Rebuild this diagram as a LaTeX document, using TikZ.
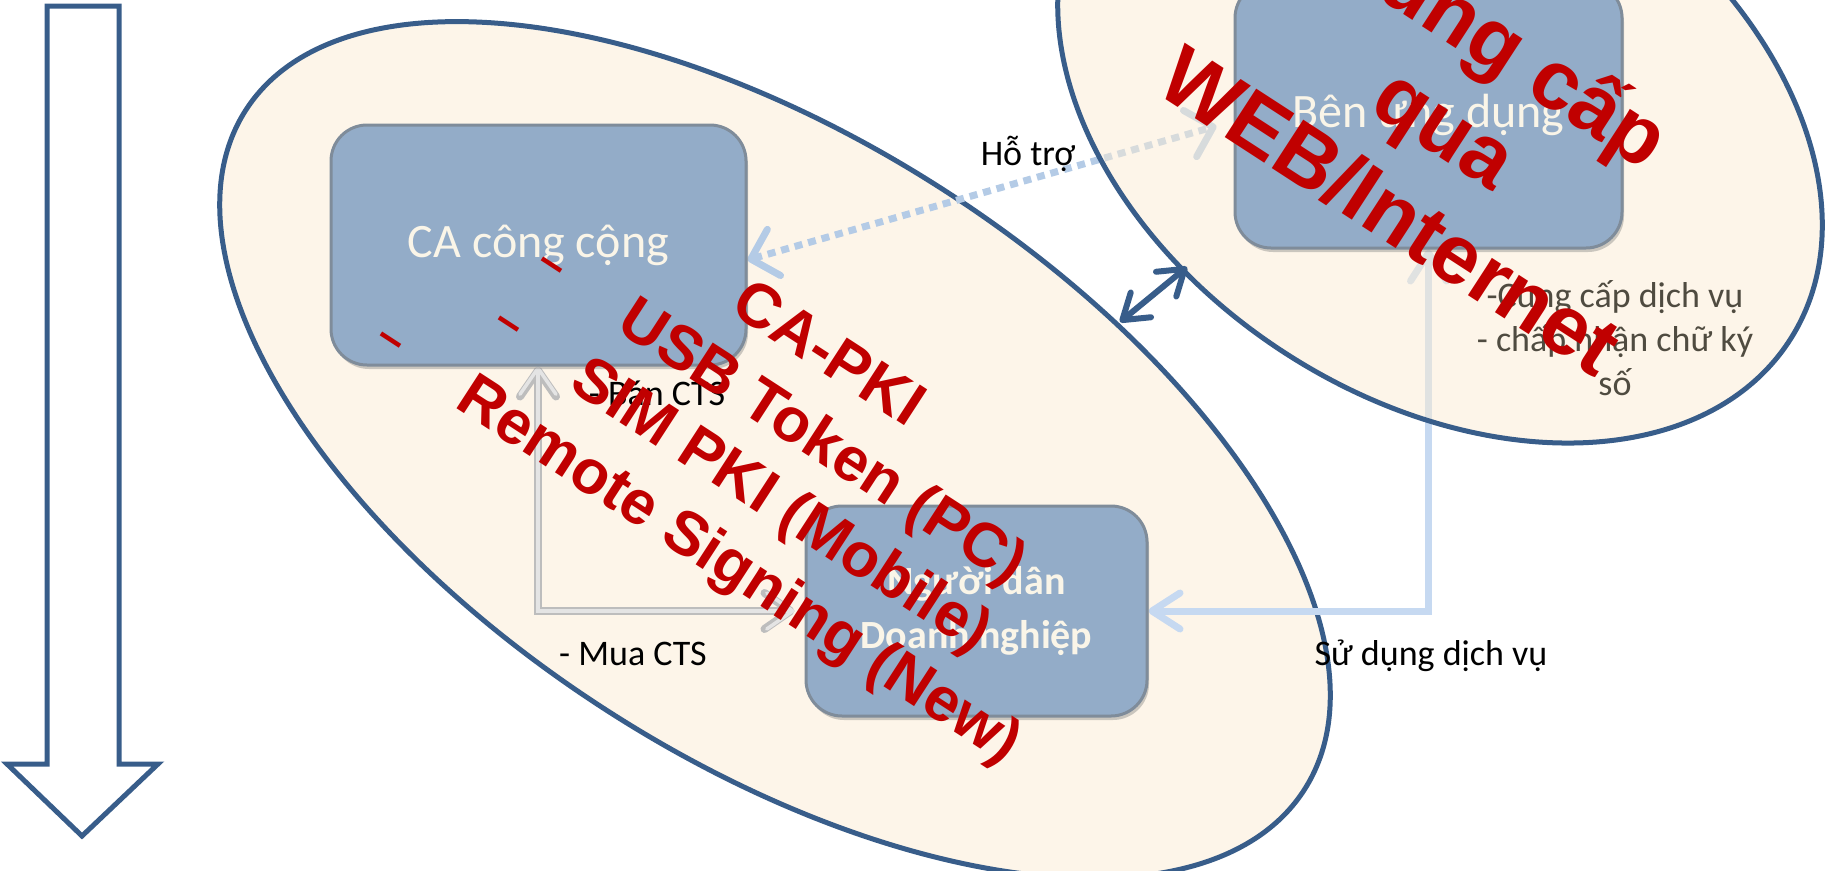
\documentclass[tikz,border=0pt]{standalone}
\usepackage{fontspec}
\setmainfont{Carlito}
\newfontfamily\redfont{Liberation Sans}
\usetikzlibrary{arrows.meta,shadows}
\pgfdeclarelayer{bg}
\pgfdeclarelayer{mid}
\pgfsetlayers{bg,mid,main}
\definecolor{outl}{HTML}{385D8A}
\definecolor{cream}{HTML}{FBEBD3}
\definecolor{boxfill}{HTML}{93ACC8}
\definecolor{boxedge}{HTML}{7F8C9A}
\definecolor{boxtext}{HTML}{FAF5E8}
\definecolor{redt}{HTML}{C00000}
\definecolor{hotroc}{HTML}{B4CBE6}
\definecolor{sudungc}{HTML}{C6D9F1}
\definecolor{grayedge}{HTML}{BDBDBD}
\definecolor{grayin}{HTML}{E4E4E4}
\definecolor{notec}{HTML}{4F4B40}
\tikzset{
  blob/.style={fill=cream, fill opacity=0.5, draw=outl, line width=5pt},
  bluebox/.style={rounded corners=36pt, fill=boxfill, draw=boxedge, line width=3pt,
    text=boxtext, inner sep=0pt, align=center,
    drop shadow={shadow xshift=2pt, shadow yshift=-4pt, fill=black!50, opacity=0.4}},
  lbl/.style={font=\fontsize{36}{44}\selectfont, inner sep=0pt, anchor=base},
  redtxt/.style={text=redt, rotate=-33, anchor=base, inner sep=0pt},
  redbig/.style={redtxt, font=\redfont\bfseries\fontsize{84}{97}\selectfont},
  redmid/.style={redtxt, font=\redfont\bfseries\fontsize{62}{72}\selectfont},
  redbullet/.style={text=redt, rotate=-33, inner sep=0pt, font=\redfont\bfseries\fontsize{46}{52}\selectfont},
  hotro/.style={draw=hotroc, line width=7pt, dash pattern=on 8pt off 6pt,
    {Straight Barb[length=24pt,width=48pt,round]}-{Straight Barb[length=24pt,width=48pt,round]}},
  banout/.style={draw=grayedge, line width=8pt,
    {Straight Barb[length=26pt,width=36pt,round]}-{Straight Barb[length=26pt,width=36pt,round]}},
  banin/.style={draw=grayin, line width=3.5pt,
    {Straight Barb[length=26pt,width=36pt,round]}-{Straight Barb[length=26pt,width=36pt,round]}},
  sudung/.style={draw=sudungc, line width=7pt,
    {Straight Barb[length=28pt,width=36pt,round]}-{Straight Barb[length=28pt,width=36pt,round]}},
  linkarrow/.style={draw=outl, line width=6pt,
    {Straight Barb[length=24pt,width=32pt,round]}-{Straight Barb[length=24pt,width=32pt,round]}}
}
\begin{document}
\begin{tikzpicture}[x=1pt,y=-1pt]
\useasboundingbox (0,0) rectangle (1833,870);

% boxes
\node[bluebox, minimum width=415pt, minimum height=240pt, font=\fontsize{48}{58}\selectfont] (ca) at (538.5,245) {CA công cộng};
\node[bluebox, minimum width=387pt, minimum height=266pt, font=\fontsize{48}{58}\selectfont] (ben) at (1428.5,115) {Bên ứng dụng};
\node[bluebox, minimum width=341pt, minimum height=210pt, font=\bfseries\fontsize{40}{54}\selectfont] (nd) at (976.5,611) {Người dân\\Doanh nghiệp};

\coordinate (mx) at (538,0);
\coordinate (dl) at (1120,322);
\coordinate (dr) at (1187,267);

\begin{pgfonlayer}{bg}
  \draw[outl, line width=5pt, fill=white, line join=miter]
    (47,6) -- (119,6) -- (119,764) -- (158,764) -- (82,836) -- (7,764) -- (47,764) -- cycle;
  \draw[blob, rotate around={-32.7:(775,450)}] (775,450) ellipse [x radius=629, y radius=310];
  \draw[hotro] ([yshift=-15pt]ca.east) -- ([xshift=-17pt,yshift=-11pt]ben.west);
  \draw[banout] (ca.south -| mx) |- ([xshift=-10pt]nd.west);
  \draw[banin] (ca.south -| mx) |- ([xshift=-10pt]nd.west);
  \draw[sudung] (ben.south) |- (nd.east);
\end{pgfonlayer}

\begin{pgfonlayer}{mid}
  \draw[blob, rotate around={-32.7:(1440,115)}] (1440,115) ellipse [x radius=416, y radius=284];
\end{pgfonlayer}

\draw[linkarrow] (dl) -- (dr);

% labels
\node[lbl] (hotrolbl) at (1028,165) {Hỗ trợ};
\node[lbl] (banlbl) at (657,405) {- Bán CTS};
\node[lbl] (mualbl) at (633,665) {- Mua CTS};
\node[lbl] (sdlbl) at (1431,665) {Sử dụng dịch vụ};
\node[inner sep=0pt, anchor=base, text=notec, font=\fontsize{36}{44}\selectfont] (note) at (1615,307)
  {\begin{tabular}[t]{@{}c@{}}-Cung cấp dịch vụ\\- chấp nhận chữ ký\\số\end{tabular}};

% red overlay text
\node[redmid] (r1) at (818,370) {CA-PKI};
\node[redmid] (r2) at (812,458) {USB Token (PC)};
\node[redmid] (r3) at (771,521) {SIM PKI (Mobile)};
\node[redmid] (r4) at (729,586) {Remote Signing (New)};
\node[redbullet] (b2) at (549,269) {–};
\node[redbullet] (b3) at (506,328) {–};
\node[redbullet] (b4) at (388,344) {–};

\node[redbig] (w1) at (1484,67) {Cung cấp};
\node[redbig] (w2) at (1430,151) {qua};
\node[redbig] (w3) at (1375,235) {WEB/Internet};
\end{tikzpicture}
\end{document}
